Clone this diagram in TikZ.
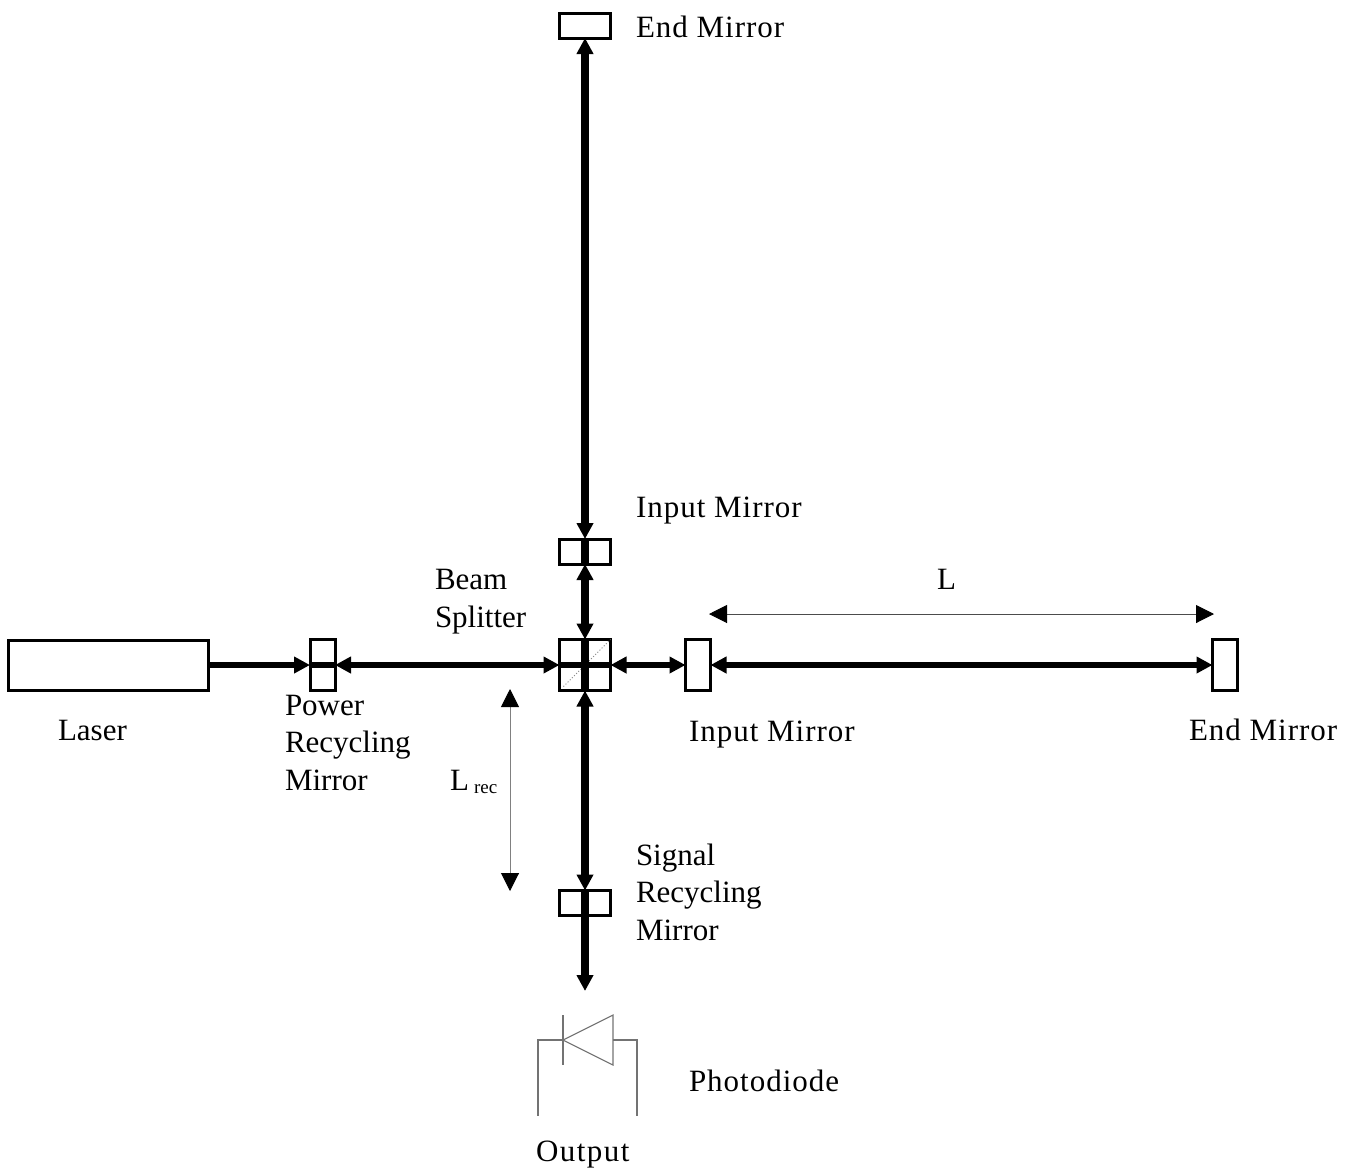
\documentclass[tikz,border=0pt]{standalone}
\usepackage{fontspec}
\setmainfont{Liberation Serif}
\usetikzlibrary{arrows.meta}
\tikzset{
  boxnode/.style={draw=black,fill=white,line width=3pt,inner sep=0pt,outer sep=0pt},
  beam/.style={line width=6pt,black},
  vbeam/.style={line width=7.5pt,black},
  tipb/.tip={Triangle[length=16pt,width=16pt,inset=0pt]},
  tipd/.tip={Triangle[length=18pt,width=18pt,inset=0pt,black]},
  diode/.style={line width=1.1pt,draw=black!55,line join=miter},
  dim/.style={line width=1pt},
  label/.style={inner sep=0pt,outer sep=0pt,anchor=base west,font=\fontsize{31}{37.5}\selectfont,align=left},
  wide/.style={font=\fontsize{31}{37.5}\selectfont\addfontfeature{LetterSpace=3.2}},
  wider/.style={font=\fontsize{31}{37.5}\selectfont\addfontfeature{LetterSpace=4.8}},
}
\begin{document}
\begin{tikzpicture}[x=1pt,y=-1pt]
\useasboundingbox (0,0) rectangle (1352,1168);
% optical elements
\node[boxnode,minimum width=200pt,minimum height=50pt] (laser) at (108,665) {};
\node[boxnode,minimum width=25pt,minimum height=51pt] (prm) at (322.5,665) {};
\node[boxnode,minimum width=51pt,minimum height=51pt] (bs) at (585,665) {};
\node[boxnode,minimum width=25pt,minimum height=51pt] (imx) at (698,665) {};
\node[boxnode,minimum width=25pt,minimum height=51pt] (emx) at (1225,665) {};
\node[boxnode,minimum width=51pt,minimum height=25pt] (emy) at (585,25.5) {};
\node[boxnode,minimum width=51pt,minimum height=25pt] (imy) at (585,551.5) {};
\node[boxnode,minimum width=51pt,minimum height=25pt] (srm) at (585,903) {};
% beam splitter surface
\draw[line width=1pt,black!45,dotted] (bs.south west) ++(4,-4) coordinate (bsa) -- (bs.north east) ++(-4,4) coordinate (bsb);
% beams
\coordinate (out) at (585,991);
\draw[beam,-{tipb}] (laser.east) -- (prm.west);
\draw[beam] (prm.west) -- (prm.east);
\draw[beam,{tipb}-{tipb}] (prm.east) -- (bs.west);
\draw[beam] (bs.west) -- (bs.east);
\draw[beam,{tipb}-{tipb}] (bs.east) -- (imx.west);
\draw[beam,{tipb}-{tipb}] (imx.east) -- (emx.west);
\draw[vbeam,{tipb}-{tipb}] (emy.south) -- (imy.north);
\draw[vbeam] (imy.north) -- (imy.south);
\draw[vbeam,{tipb}-{tipb}] (imy.south) -- (bs.north);
\draw[vbeam] (bs.north) -- (bs.south);
\draw[vbeam,{tipb}-{tipb}] (bs.south) -- (srm.north);
\draw[vbeam] (srm.north) -- (srm.south);
\draw[vbeam,-{tipb}] (srm.south) -- (out);
% dimensions
\coordinate (la) at (709,614);
\coordinate (lb) at (1214,614);
\draw[dim,black!70,{tipd}-{tipd}] (la) -- (lb);
\coordinate (ra) at (510,689);
\coordinate (rb) at (510,891);
\draw[dim,black!50,{tipd}-{tipd}] (ra) -- (rb);
% photodiode
\coordinate (dk) at (563,1040);
\coordinate (dt) at (613,1015);
\coordinate (db) at (613,1065);
\coordinate (dm) at (613,1040);
\coordinate (kt) at (563,1015);
\coordinate (kb) at (563,1065);
\coordinate (lc) at (538,1040);
\coordinate (le) at (538,1116);
\coordinate (rc) at (637,1040);
\coordinate (re) at (637,1116);
\draw[diode] (dk) -- (dt) -- (db) -- cycle;
\draw[diode] (kt) -- (kb);
\draw[diode] (dk) -- (lc) -- (le);
\draw[diode] (dm) -- (rc) -- (re);
% labels
\node[label,wide] (t1) at (636,37) {End Mirror};
\node[label,wide] (t2) at (636,517) {Input Mirror};
\node[label] (t3) at (435,627) {Beam\\Splitter};
\node[label] (t4) at (58,740) {Laser};
\node[label] (t5) at (285,790) {Power\\Recycling\\Mirror};
\node[label,wide] (t6) at (689,741) {Input Mirror};
\node[label,wide] (t7) at (1189,740) {End Mirror};
\node[label] (t8) at (937,589) {L};
\node[label] (t9) at (450,790) {L\,{\raisebox{-3pt}{\fontsize{19}{20}\selectfont rec}}};
\node[label] (t10) at (636,940) {Signal\\Recycling\\Mirror};
\node[label,wide] (t11) at (689,1091) {Photodiode};
\node[label,wider] (t12) at (536,1161) {Output};
\end{tikzpicture}
\end{document}
